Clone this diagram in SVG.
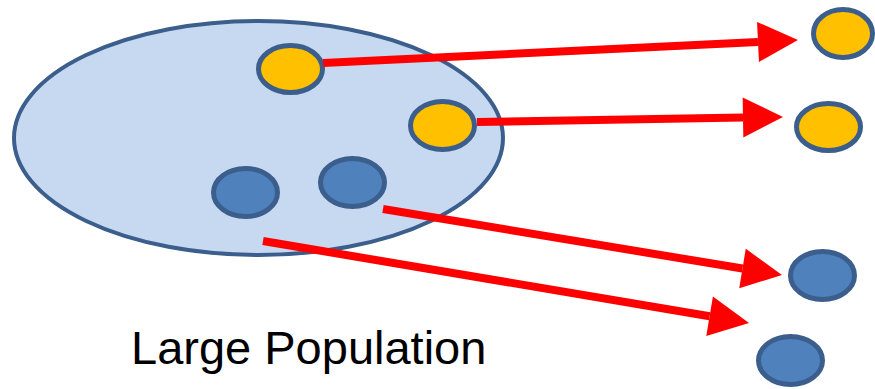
<svg xmlns="http://www.w3.org/2000/svg" width="875" height="389" viewBox="0 0 875 389">
<style>
.pop{fill:#c6d9f0;stroke:#3b5e8c;stroke-width:4}
.y{fill:#ffc000;stroke:#3b5e8c;stroke-width:5}
.b{fill:#4f81bd;stroke:#3b5e8c;stroke-width:5}
.arr{stroke:#ff0000;stroke-width:8;fill:none;marker-end:url(#ah)}
.lbl{font-family:"Liberation Sans",Arial,sans-serif;font-size:47px;fill:#000}
</style>
<defs>
<marker id="ah" markerUnits="strokeWidth" markerWidth="5" markerHeight="5" refX="0" refY="2.5" orient="auto" overflow="visible">
<path d="M0,0 L5,2.5 L0,5 z" fill="#ff0000"/>
</marker>
</defs>
<g id="population"><ellipse class="pop" cx="258.5" cy="138" rx="244.5" ry="117"/></g>
<g id="y1"><ellipse class="y" cx="290.5" cy="69" rx="32" ry="23.5"/></g>
<g id="y2"><ellipse class="y" cx="442.5" cy="125.5" rx="32" ry="24"/></g>
<g id="b1"><ellipse class="b" cx="245.5" cy="192.5" rx="32" ry="24"/></g>
<g id="b2"><ellipse class="b" cx="352.5" cy="182.5" rx="32" ry="24"/></g>
<g id="ry1"><ellipse class="y" cx="843" cy="33.5" rx="29.5" ry="24"/></g>
<g id="ry2"><ellipse class="y" cx="828.5" cy="127" rx="32" ry="23.5"/></g>
<g id="rb1"><ellipse class="b" cx="822.5" cy="275.5" rx="32" ry="24"/></g>
<g id="rb2"><ellipse class="b" cx="790.5" cy="360.5" rx="32" ry="24"/></g>
<g id="connectors">
<line class="arr" x1="323" y1="63" x2="758" y2="41.9"/>
<line class="arr" x1="477" y1="122" x2="743" y2="117.6"/>
<line class="arr" x1="383" y1="209" x2="742.5" y2="268.5"/>
<line class="arr" x1="263" y1="241" x2="709.6" y2="316.3"/>
</g>
<g id="label"><text class="lbl" x="131" y="364">Large Population</text></g>
</svg>
